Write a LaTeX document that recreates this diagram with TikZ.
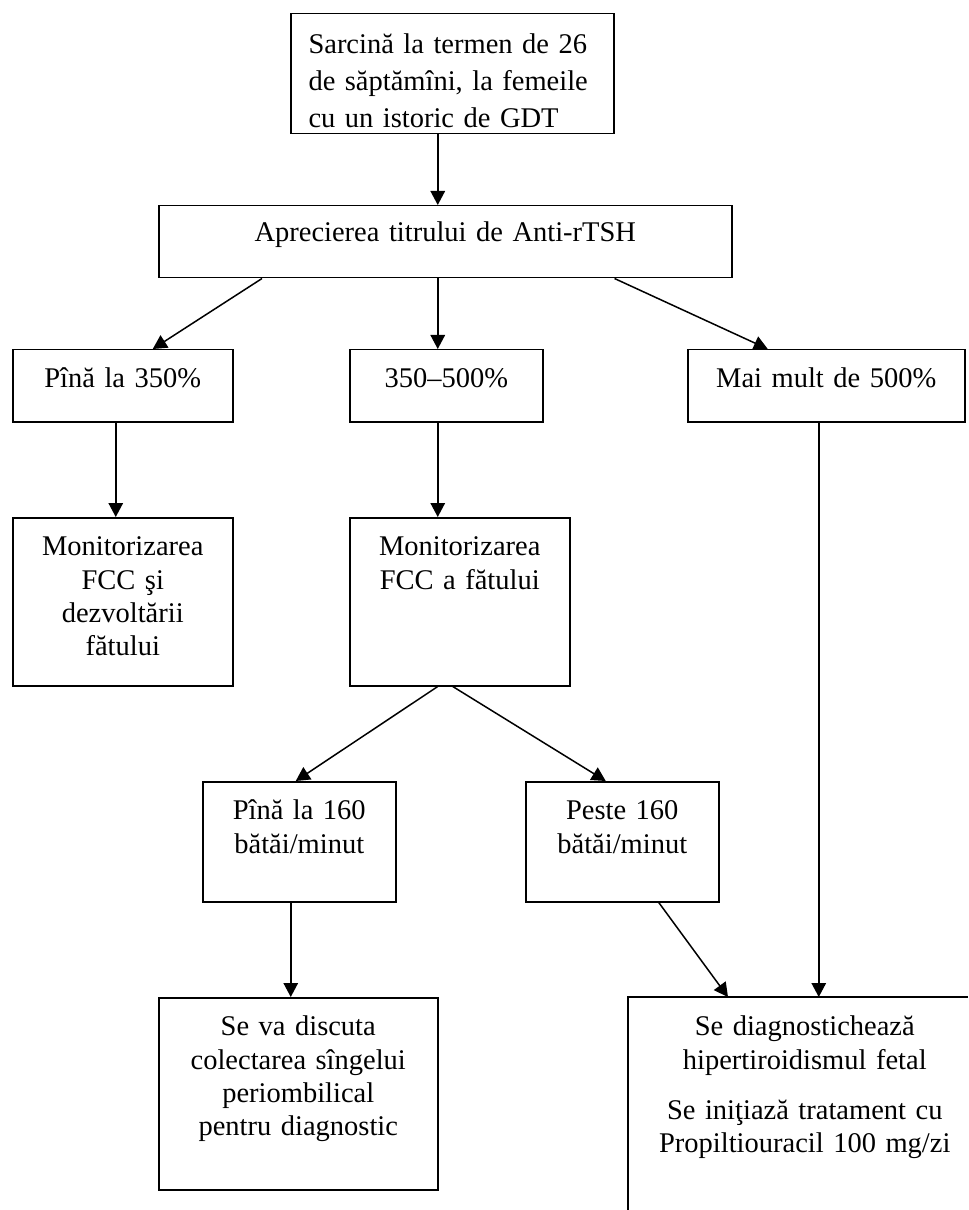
\documentclass[tikz,border=0pt]{standalone}
\usepackage{fontspec}
\setmainfont{Liberation Serif}
\usetikzlibrary{arrows.meta}

\tikzset{
  box/.style={draw, line width=0.6pt, anchor=north west, inner xsep=4pt, inner ysep=0pt,
              align=center, text height=15.2pt, font=\fontsize{11.4pt}{13.3pt}\selectfont},
  arr/.style={line width=0.6pt, -{Triangle[length=5.6pt,width=5.8pt]}}
}

\begin{document}
\begin{tikzpicture}[x=0.4pt, y=-0.4pt]
  \useasboundingbox (0,0) rectangle (968,1210);
  \coordinate (corner) at (968,1210);

  % Start
  \node[box, align=left, inner xsep=7.1pt, text width=115pt, text height=16pt, text depth=32pt,
        font=\fontsize{11.4pt}{14.7pt}\selectfont] (sarc) at (290,13)
        {Sarcină la termen de 26\\de săptămîni, la femeile\\cu un istoric de GDT};
  \node[box, text width=221.2pt, text height=14.4pt, text depth=14.4pt] (aprec) at (158,205)
        {Aprecierea titrului de Anti-rTSH};

  % Titre ranges
  \node[box, text width=80pt, text depth=13.6pt] (p350) at (12,349) {Pînă la 350\%};
  \node[box, text width=69.2pt, text depth=13.6pt] (r500) at (349,349) {350–500\%};
  \node[box, text width=102.8pt, text depth=13.6pt] (mult) at (687,349) {Mai mult de 500\%};

  % Monitoring
  \node[box, text width=80pt, text depth=52pt] (fcc1) at (12,517)
        {Monitorizarea\\FCC şi\\dezvoltării\\fătului};
  \node[box, text width=80pt, text depth=52pt] (fcc2) at (349,517)
        {Monitorizarea\\FCC a fătului};

  % Heart rate
  \node[box, text width=69.2pt, text depth=32.8pt] (sub160) at (202,781) {Pînă la 160\\bătăi/minut};
  \node[box, text width=69.2pt, text depth=32.8pt] (peste160) at (525,781) {Peste 160\\bătăi/minut};

  % Outcomes
  \node[box, text width=103.6pt, text depth=61.6pt] (sange) at (158,997)
        {Se va discuta\\colectarea sîngelui\\periombilical\\pentru diagnostic};
  \node[box, draw=none, text width=132.8pt, text depth=70pt] (hiper) at (628,997)
        {Se diagnostichează\\hipertiroidismul fetal\\[6.7pt]Se iniţiază tratament cu\\Propiltiouracil 100 mg/zi};
  \draw[line width=0.6pt] (hiper.north west |- corner) -- (hiper.north west) -- (hiper.north west -| corner);

  % Arrows
  \draw[arr] ([xshift=-5.8pt]sarc.south) -- ([xshift=-5.8pt]sarc.south |- aprec.north);
  \draw[arr] ([xshift=41.6pt]aprec.south west) -- ([xshift=12pt]p350.north);
  \draw[arr] ([xshift=-3.4pt]r500.north |- aprec.south) -- ([xshift=-3.4pt]r500.north);
  \draw[arr] ([xshift=-47.2pt]aprec.south east) -- ([xshift=-23.4pt]mult.north);
  \draw[arr] ([xshift=-2.8pt]p350.south) -- ([xshift=-2.8pt]fcc1.north);
  \draw[arr] ([xshift=-3.4pt]r500.south) -- ([xshift=-3.4pt]r500.south |- fcc2.north);
  \draw[arr] ([xshift=-8.8pt]fcc2.south) -- ([xshift=-1.4pt]sub160.north);
  \draw[arr] ([xshift=-2.8pt]fcc2.south) -- ([xshift=-6.6pt]peste160.north);
  \draw[arr] ([xshift=-3.4pt]sub160.south) -- ([xshift=-3.4pt]sub160.south |- sange.north);
  \draw[arr] ([xshift=14.6pt]peste160.south) -- ([xshift=40pt]hiper.north west);
  \draw[arr] ([xshift=-3pt]mult.south) -- ([xshift=-3pt]mult.south |- hiper.north);
\end{tikzpicture}
\end{document}
